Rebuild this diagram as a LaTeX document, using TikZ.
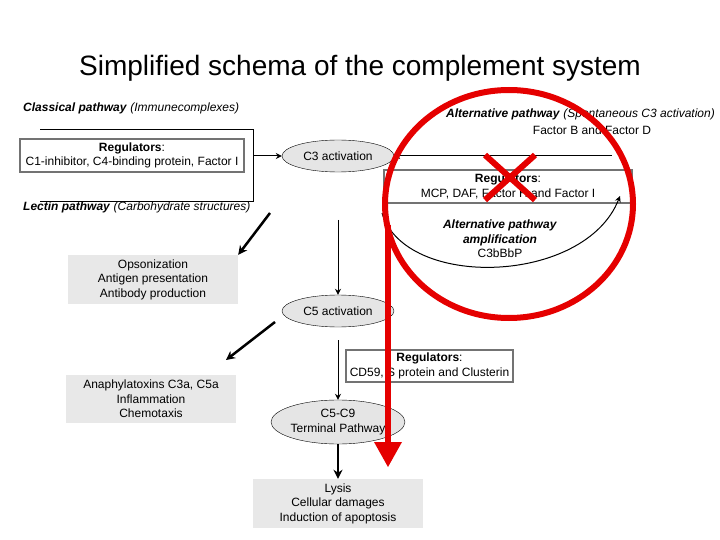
\documentclass[tikz,border=0pt]{standalone}
\usepackage{fontspec}
\setmainfont{Liberation Sans}
\usetikzlibrary{arrows.meta,shapes.geometric}
\begin{document}
\begin{tikzpicture}[x=1pt,y=-1pt,
  txt/.style={font=\fontsize{12}{14.5}\selectfont,align=center,inner sep=0},
  ell/.style={ellipse,draw=black,fill=gray!20,minimum width=112,minimum height=32,txt},
  regbox/.style={draw=gray!90!black,line width=2.2pt,fill=white,txt,inner sep=0},
  fx/.style={fill=gray!18,txt},
  arr/.style={-{Stealth[length=6pt,width=6pt]},line width=1pt},
  thick arr/.style={-{Stealth[length=9pt,width=9pt]},line width=2.5pt},
  red/.style={draw=red!90!black,line width=6pt}]
\useasboundingbox (0,0) rectangle (720,540);
\node[font=\fontsize{28}{32}\selectfont] (title) at (360,68) {Simplified schema of the complement system};
\node[txt,anchor=west] (cp) at (23,108) {\textbf{\textit{Classical pathway}} \textit{(Immunecomplexes)}};
\node[txt,anchor=west] (lp) at (23,207) {\textbf{\textit{Lectin pathway}} \textit{(Carbohydrate structures)}};
\node[txt,anchor=east] (ap) at (715,114) {\textbf{\textit{Alternative pathway}} \textit{(Spontaneous C3 activation)}};
\node[txt] (fbd) at (592,130) {Factor B and Factor D};
\draw[line width=1pt] (40,130) -- (253,130) -- (253,202) -- (40,202);
\coordinate (br) at (253,156);
\node[regbox,minimum width=224,minimum height=33] (r1) at (132,155.5) {\textbf{Regulators}:\\C1-inhibitor, C4-binding protein, Factor I};
\node[ell] (c3) at (338,156) {C3 activation};
\draw[arr] (br) -- (c3.west);
\coordinate (apin) at (612,156);
\draw[arr] (apin) -- (c3.east);
\node[regbox,minimum width=248,minimum height=33] (r2) at (508,186.5) {\textbf{Regulators}:\\MCP, DAF, Factor H and Factor I};
\coordinate (arcin) at (620,196);
\node[txt] (amp) at (500,239) {\textbf{\textit{Alternative pathway}}\\\textbf{\textit{amplification}}\\C3bBbP};
\draw[arr] (382,213) .. controls (405,290) and (585,285) .. (arcin);
\node[fx,minimum width=170,minimum height=49] (ops) at (153,279.5) {Opsonization\\Antigen presentation\\Antibody production};
\draw[thick arr] (270,213) -- (ops.north east);
\node[ell] (c5) at (338,311) {C5 activation};
\draw[arr] (338,220) -- (c5.north);
\node[fx,minimum width=170,minimum height=48] (ana) at (151,399) {Anaphylatoxins C3a, C5a\\Inflammation\\Chemotaxis};
\coordinate (c5out) at (275,322);
\draw[thick arr] (c5out) -- (226,360);
\node[regbox,minimum width=167,minimum height=32] (r3) at (429.5,366) {\textbf{Regulators}:\\CD59, S protein and Clusterin};
\node[ell,minimum height=44] (c9) at (338,422) {C5-C9\\Terminal Pathway};
\draw[arr] (338,340) -- (c9.north);
\node[fx,minimum width=170,minimum height=49] (lys) at (338,503.5) {Lysis\\Cellular damages\\Induction of apoptosis};
\draw[thick arr] (c9.south) -- (lys.north);
% red annotation
\draw[red] (509,204) ellipse (124 and 114);
\draw[red] (485,155) -- (535,200) (535,155) -- (485,200);
\draw[red] (388,225) -- (388,445);
\fill[red!90!black] (374,442) -- (402,442) -- (388,467) -- cycle;
\end{tikzpicture}
\end{document}
